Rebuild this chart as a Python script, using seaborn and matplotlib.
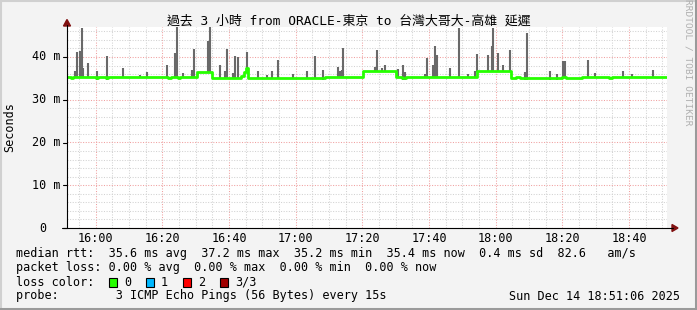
import numpy as np
import pandas as pd
import matplotlib
matplotlib.use("Agg")
import matplotlib.pyplot as plt
import seaborn as sns
from matplotlib.patches import Rectangle, Polygon
from matplotlib.lines import Line2D

# ---------------- data ----------------
# time axis: minutes since 15:00
x_start, x_end = 51.4, 231.4
tick_minutes = [60, 80, 100, 120, 140, 160, 180, 200, 220]
tick_labels = ["16:00", "16:20", "16:40", "17:00", "17:20", "17:40", "18:00", "18:20", "18:40"]
y_ticks = [0, 10, 20, 30, 40]
y_labels = ["0", "10 m", "20 m", "30 m", "40 m"]

# median rtt (ms), step function
med_t = [51.4, 52.6, 53.2, 60.0, 60.6, 63.0, 63.6, 81.8, 82.6, 84.8, 85.4, 90.4, 94.9,
         103.6, 104.4, 105.0, 105.8, 116.0, 117.0, 128.0, 128.8, 140.2, 150.1, 152.0, 153.0,
         174.4, 184.6, 186.0, 187.2, 200.0, 201.0, 204.0, 206.0, 214.0, 215.0, 231.4]
med_v = [35.3, 35.0, 35.3, 35.0, 35.3, 35.0, 35.3, 35.0, 35.3, 35.0, 35.3, 36.6, 35.2,
         35.6, 36.4, 37.4, 35.1, 35.0, 35.2, 35.0, 35.3, 36.7, 35.3, 35.0, 35.3,
         36.7, 35.0, 35.3, 35.0, 35.3, 35.0, 35.0, 35.3, 35.1, 35.3, 35.3]

# smoke (max ping) spikes
spike_t = [53.8, 54.4, 55.3, 55.9, 56.2, 57.7, 60.4, 63.4, 68.2, 73.3, 75.4, 81.4, 83.8, 84.4,
           86.2, 88.9, 89.5, 93.7, 94.3, 97.3, 98.8, 99.4, 101.2, 101.8, 102.7, 105.4, 108.7,
           111.4, 112.9, 114.7, 119.2, 123.4, 125.8, 128.2, 132.7, 133.3, 133.9, 134.2, 143.8,
           144.4, 145.9, 146.8, 150.7, 152.2, 152.8, 158.8, 159.4, 161.2, 161.8, 162.4, 166.3,
           169.0, 171.7, 173.8, 174.4, 177.7, 178.9, 179.2, 180.7, 182.2, 184.3, 188.8, 189.4,
           196.3, 198.4, 200.2, 200.8, 207.7, 209.8, 218.2, 220.9, 227.2]
spike_v = [36.8, 41.2, 41.4, 46.8, 37.4, 38.6, 36.8, 40.2, 37.5, 35.9, 36.5, 38.1, 41.0, 47.0,
           36.3, 37.0, 41.9, 43.7, 47.0, 38.1, 36.8, 41.9, 36.3, 40.2, 40.0, 41.2, 36.8,
           35.9, 36.8, 39.3, 36.0, 36.8, 40.2, 37.0, 37.7, 36.8, 37.0, 42.0, 37.7,
           41.6, 37.4, 38.1, 37.2, 38.1, 36.5, 36.0, 39.8, 38.1, 42.6, 40.5, 37.5,
           46.8, 36.0, 36.8, 40.7, 40.5, 42.6, 46.8, 41.0, 38.1, 41.6, 36.5, 45.6,
           36.8, 36.0, 39.0, 39.0, 39.3, 36.3, 36.8, 36.0, 37.0]

title = "過去 3 小時 from ORACLE-東京 to 台灣大哥大-高雄 延遲"
legend_lines = [
    "median rtt:  35.6 ms avg  37.2 ms max  35.2 ms min  35.4 ms now  0.4 ms sd  82.6   am/s",
    "packet loss: 0.00 % avg  0.00 % max  0.00 % min  0.00 % now",
    "loss color:",
    "probe:        3 ICMP Echo Pings (56 Bytes) every 15s",
]
loss_labels = ["0", "1", "2", "3/3"]
loss_colors = ["#26ff00", "#00b8ff", "#ff0000", "#a10000"]
stamp = "Sun Dec 14 18:51:06 2025"

# ---------------- figure ----------------
sns.set_theme(style="white")
plt.rcParams["font.family"] = ["DejaVu Sans Mono", "Noto Sans CJK TC"]

W, H = 697, 310
fig = plt.figure(figsize=(W / 100, H / 100), dpi=100, facecolor="#f3f3f3")


def P(x, y):
    return (x / W, 1 - y / H)


L, R, T, B = 67, 667, 27, 228
ax = fig.add_axes([L / W, (H - B) / H, (R - L) / W, (B - T) / H])
ax.set_facecolor("white")
ymax = (B - T) / 4.275

ax.set_xticks(tick_minutes)
ax.set_xticks(np.arange(55, 231, 5), minor=True)
ax.set_yticks(y_ticks)
ax.set_yticks(np.arange(0, 47, 2), minor=True)
ax.grid(which="minor", color="#d2d2d2", linestyle=(0, (1, 1.5)), linewidth=0.75)
ax.grid(which="major", color="#f0a0a0", linestyle=(0, (1, 1.5)), linewidth=0.75)
ax.tick_params(which="both", labelbottom=False, labelleft=False, length=0)
for s in ax.spines.values():
    s.set_visible(False)
ax.set_axisbelow(True)

# smoke
med_s = pd.Series(med_v, index=med_t)
bottoms = [med_s[med_s.index <= t].iloc[-1] - 0.3 for t in spike_t]
ax.vlines(spike_t, bottoms, spike_v, color="#696969", linewidth=1.5, zorder=3)

# median line
df = pd.DataFrame({"t": med_t, "v": med_v})
sns.lineplot(data=df, x="t", y="v", ax=ax, color="#26ff00", linewidth=2.0,
             drawstyle="steps-post", estimator=None, sort=False, zorder=4)
ax.set_xlabel("")
ax.set_ylabel("")
ax.set_xlim(x_start, x_end)
ax.set_ylim(0, ymax)

# axes lines and arrows
fig.add_artist(Line2D(*zip(P(L, B), P(L, 25)), color="black", lw=0.8, transform=fig.transFigure))
fig.add_artist(Line2D(*zip(P(62, B), P(673, B)), color="black", lw=0.8, transform=fig.transFigure))
fig.add_artist(Polygon([P(L, 19.5), P(L - 3.5, 26), P(L + 3.5, 26)], closed=True,
                       color="#801010", transform=fig.transFigure))
fig.add_artist(Polygon([P(678, B), P(672, B - 3.5), P(672, B + 3.5)], closed=True,
                       color="#801010", transform=fig.transFigure))
# y tick marks
for v in y_ticks:
    yy = B - v * 4.275
    fig.add_artist(Line2D(*zip(P(63, yy), P(L, yy)), color="black", lw=0.8, transform=fig.transFigure))

FS = 8.5
# y labels
for v, lab in zip(y_ticks, y_labels):
    yy = B - v * 4.275
    xr = 46.5 if lab == "0" else 60
    fig.text(*P(xr, yy), lab, ha="right", va="center", fontsize=FS, color="black")
# x labels
for t, lab in zip(tick_minutes, tick_labels):
    xx = L + (t - x_start) * (R - L) / (x_end - x_start)
    fig.text(*P(xx, 238), lab, ha="center", va="center", fontsize=FS, color="black")

# title and axis label
fig.text(*P(348.5, 21.5), title, ha="center", va="center", fontsize=9.3, color="black")
fig.text(*P(10, 127), "Seconds", ha="center", va="center", rotation=90, fontsize=FS, color="black")
fig.text(*P(688, 62), "RRDTOOL / TOBI OETIKER", ha="center", va="center", rotation=270,
         fontsize=6.8, color="#b0b0b0")

# legend
ys = [253.5, 268, 282, 296]
for line, yy in zip(legend_lines, ys):
    fig.text(*P(16, yy), line, ha="left", va="center", fontsize=FS, color="black")
box_x = [109, 146, 183, 220]
for bx, lab, col in zip(box_x, loss_labels, loss_colors):
    fig.add_artist(Rectangle(P(bx, 286.5), 8 / W, 9 / H, facecolor=col, edgecolor="black",
                             linewidth=0.8, transform=fig.transFigure))
    fig.text(*P(bx + 15, 282), lab, ha="left", va="center", fontsize=FS, color="black")
fig.text(*P(680, 296), stamp, ha="right", va="center", fontsize=FS, color="black")

# frame
fig.add_artist(Line2D([0, 1], [1 - 0.5 / H, 1 - 0.5 / H], color="#d0d0d0", lw=1.5, transform=fig.transFigure))
fig.add_artist(Line2D([0.5 / W, 0.5 / W], [0, 1], color="#d0d0d0", lw=1.5, transform=fig.transFigure))
fig.add_artist(Line2D([1 - 1.5 / W, 1 - 1.5 / W], [0, 1], color="#9a9a9a", lw=2.2, transform=fig.transFigure))
fig.add_artist(Line2D([0, 1], [1.5 / H, 1.5 / H], color="#9a9a9a", lw=2.2, transform=fig.transFigure))

fig.savefig("out.png", dpi=100, facecolor=fig.get_facecolor())
